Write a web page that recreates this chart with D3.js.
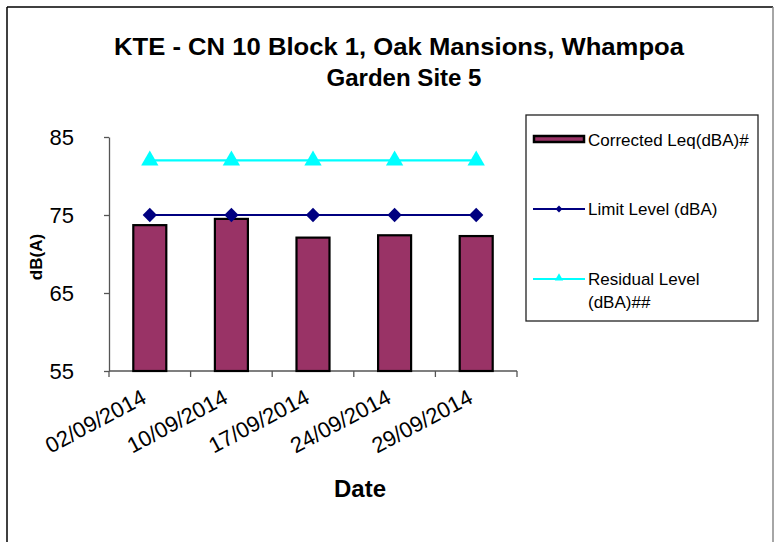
<!DOCTYPE html>
<html>
<head>
<meta charset="utf-8">
<title>KTE - CN 10 Block 1</title>
<script src="https://cdn.jsdelivr.net/npm/d3@7"></script>
<style>
  body { margin: 0; background: #fff; }
  svg text { font-family: "Liberation Sans", Arial, sans-serif; fill: #000; }
</style>
</head>
<body>
<svg id="svg"></svg>
<script>
// data
var dates = ["02/09/2014", "10/09/2014", "17/09/2014", "24/09/2014", "29/09/2014"];
var correctedLeq = [73.7, 74.5, 72.1, 72.4, 72.3];
var limitLevel = [75, 75, 75, 75, 75];
var residualLevel = [82, 82, 82, 82, 82];
var yTicks = [55, 65, 75, 85];

var width = 775, height = 542;
var plot = {left: 109, right: 517, top: 137, bottom: 371};

var svg = d3.select("#svg").attr("width", width).attr("height", height);

// outer frame
svg.append("line").attr("x1", 7).attr("y1", 7).attr("x2", 7).attr("y2", height)
  .attr("stroke", "#000").attr("stroke-width", 1.5);
svg.append("line").attr("x1", 7).attr("y1", 7).attr("x2", 773).attr("y2", 7)
  .attr("stroke", "#000").attr("stroke-width", 1.5);
svg.append("line").attr("x1", 773).attr("y1", 7).attr("x2", 773).attr("y2", height)
  .attr("stroke", "#888").attr("stroke-width", 1.5);

// title
svg.append("text").attr("x", 399).attr("y", 55).attr("text-anchor", "middle")
  .attr("textLength", 570).attr("lengthAdjust", "spacingAndGlyphs")
  .style("font-size", "24px").style("font-weight", "bold")
  .text("KTE - CN 10 Block 1, Oak Mansions, Whampoa");
svg.append("text").attr("x", 404).attr("y", 86).attr("text-anchor", "middle")
  .attr("textLength", 155).attr("lengthAdjust", "spacingAndGlyphs")
  .style("font-size", "24px").style("font-weight", "bold")
  .text("Garden Site 5");

var x = d3.scaleBand().domain(dates).range([plot.left, plot.right]).paddingInner(0).paddingOuter(0);
var y = d3.scaleLinear().domain([55, 85]).range([plot.bottom, plot.top]);

// y axis
var gy = svg.append("g").attr("transform", "translate(" + plot.left + ",0)")
  .call(d3.axisLeft(y).tickValues(yTicks).tickSize(5).tickPadding(30).tickSizeOuter(0));
gy.select(".domain").attr("stroke", "#555").attr("stroke-width", 1.3);
gy.selectAll(".tick line").attr("stroke", "#555").attr("stroke-width", 1.3);
gy.selectAll(".tick text").style("font-size", "22px").style("font-family", "Liberation Sans, Arial, sans-serif")
  .attr("dy", "0.36em");

// x axis: ticks on category boundaries
var gx = svg.append("g").attr("transform", "translate(0," + plot.bottom + ")");
gx.append("line").attr("x1", plot.left).attr("x2", plot.right).attr("stroke", "#555").attr("stroke-width", 1.3);
gx.selectAll(".xt").data(dates.concat(["end"])).enter().append("line")
  .attr("x1", function(d, i) { return i < dates.length ? x(d) : plot.right; })
  .attr("x2", function(d, i) { return i < dates.length ? x(d) : plot.right; })
  .attr("y1", 0).attr("y2", 6).attr("stroke", "#555").attr("stroke-width", 1.3);
gx.selectAll(".xl").data(dates).enter().append("text")
  .attr("transform", function(d) {
    return "translate(" + (x(d) + x.bandwidth() / 2 - 2) + ",31) rotate(-28)";
  })
  .attr("text-anchor", "end")
  .style("font-size", "22px")
  .text(function(d) { return d; });

// axis titles
svg.append("text").attr("transform", "translate(42,257) rotate(-90)")
  .attr("text-anchor", "middle").style("font-size", "17px").style("font-weight", "bold")
  .text("dB(A)");
svg.append("text").attr("x", 360).attr("y", 497).attr("text-anchor", "middle")
  .style("font-size", "24px").style("font-weight", "bold").text("Date");

// bars
var barW = 33;
svg.selectAll(".bar").data(correctedLeq).enter().append("rect")
  .attr("x", function(d, i) { return x(dates[i]) + x.bandwidth() / 2 - barW / 2; })
  .attr("y", function(d) { return y(d); })
  .attr("width", barW)
  .attr("height", function(d) { return y(55) - y(d); })
  .attr("fill", "#993366").attr("stroke", "#000").attr("stroke-width", 2.2);

// lines
var line = d3.line()
  .x(function(d, i) { return x(dates[i]) + x.bandwidth() / 2; })
  .y(function(d) { return y(d); });

svg.append("path").datum(limitLevel).attr("d", line)
  .attr("fill", "none").attr("stroke", "#000080").attr("stroke-width", 2.2);
svg.selectAll(".dia").data(limitLevel).enter().append("path")
  .attr("transform", function(d, i) { return "translate(" + (x(dates[i]) + x.bandwidth() / 2) + "," + y(d) + ")"; })
  .attr("d", d3.symbol().type(d3.symbolDiamond2).size(130))
  .attr("fill", "#000080");

svg.append("path").datum(residualLevel).attr("d", line)
  .attr("fill", "none").attr("stroke", "#00FFFF").attr("stroke-width", 2.2);
svg.selectAll(".tri").data(residualLevel).enter().append("path")
  .attr("transform", function(d, i) { return "translate(" + (x(dates[i]) + x.bandwidth() / 2) + "," + y(d) + ")"; })
  .attr("d", d3.symbol().type(d3.symbolTriangle).size(130))
  .attr("fill", "#00FFFF");

// legend
var lg = svg.append("g");
lg.append("rect").attr("x", 526).attr("y", 115).attr("width", 232).attr("height", 206)
  .attr("fill", "#fff").attr("stroke", "#222").attr("stroke-width", 1.3);

lg.append("rect").attr("x", 534).attr("y", 136).attr("width", 50).attr("height", 6)
  .attr("fill", "#993366").attr("stroke", "#000").attr("stroke-width", 2.5);
lg.append("text").attr("x", 588).attr("y", 146).style("font-size", "17px").text("Corrected Leq(dBA)#");

lg.append("line").attr("x1", 533).attr("x2", 585).attr("y1", 209).attr("y2", 209)
  .attr("stroke", "#000080").attr("stroke-width", 2);
lg.append("path").attr("transform", "translate(559,209)")
  .attr("d", d3.symbol().type(d3.symbolDiamond2).size(30)).attr("fill", "#000080");
lg.append("text").attr("x", 588).attr("y", 215).style("font-size", "17px").text("Limit Level (dBA)");

lg.append("line").attr("x1", 533).attr("x2", 585).attr("y1", 279).attr("y2", 279)
  .attr("stroke", "#00FFFF").attr("stroke-width", 2);
lg.append("path").attr("transform", "translate(559,278)")
  .attr("d", d3.symbol().type(d3.symbolTriangle).size(30)).attr("fill", "#00FFFF");
lg.append("text").attr("x", 588).attr("y", 285).style("font-size", "17px").text("Residual Level");
lg.append("text").attr("x", 588).attr("y", 308).style("font-size", "17px").text("(dBA)##");
</script>
</body>
</html>
